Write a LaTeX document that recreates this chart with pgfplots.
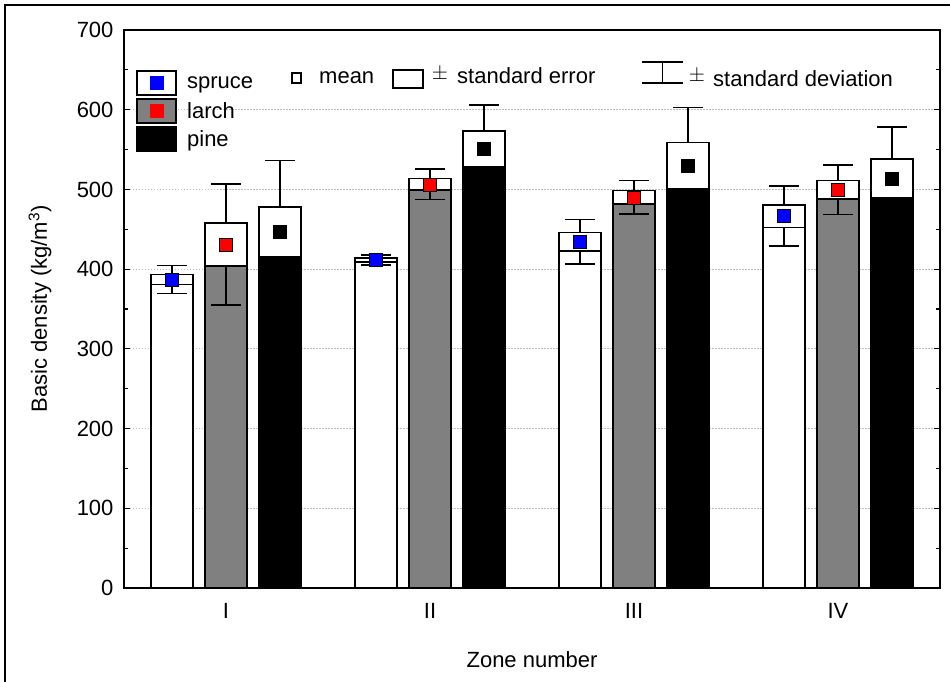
\documentclass[border=0pt]{standalone}
\usepackage{fontspec}
\setmainfont{Liberation Sans}
\usepackage{pgfplots}
\usepackage{pgfplotstable}
\pgfplotsset{compat=1.18}

% x = bar position, mean, standard error, standard deviation
\pgfplotstableread{
x     mean  se   sd
0.735 386.8 6.3  17.5
1.735 411.5 2.5  6.5
2.735 434.5 11.5 28
3.735 466.5 14   37.5
}\spruce
\pgfplotstableread{
x     mean  se   sd
1.000 431   27   76
2.000 506.5 7.5  19
3.000 490   8.5  21
4.000 499.5 11.5 31
}\larch
\pgfplotstableread{
x     mean  se   sd
1.265 447   31   89
2.265 551   22   55
3.265 530   29   73
4.265 513.5 24.5 65
}\pine

\definecolor{larchgray}{RGB}{128,128,128}
\definecolor{gridgray}{RGB}{190,190,190}

\pgfplotsset{
  sebox/.style={ybar, bar width=42pt, line width=1.5pt, draw=black, forget plot},
  whisk/.style={draw=none, mark=none, forget plot,
    error bars/.cd, y dir=#1, y explicit, error mark=|,
    error bar style={draw=black, solid, line width=1.5pt},
    error mark options={draw=black, solid, line width=1.5pt, mark size=15pt}},
  meanmark/.style={only marks, mark=square*, mark size=6.5pt, forget plot},
}

\begin{document}
\begin{tikzpicture}[font=\fontsize{22}{26}\selectfont]
\path[use as bounding box] (-124pt,-94pt) rectangle (826pt,588pt);
\begin{axis}[
  at={(0pt,0pt)}, anchor=south west,
  scale only axis, width=816pt, height=558pt,
  xmin=0.5, xmax=4.5, ymin=0, ymax=700,
  xtick={1,2,3,4}, xticklabels={I,II,III,IV},
  xtick pos=left,
  ytick={0,100,...,700}, minor y tick num=1,
  tick align=inside, major tick length=6pt, minor tick length=4pt,
  axis line style={line width=1.5pt},
  every tick/.style={black, line width=1.2pt},
  ymajorgrids,
  grid style={gridgray, line width=0.9pt, dash pattern=on 1.5pt off 1.5pt},
  /pgf/number format/assume math mode=true,
  yticklabel style={xshift=-7pt},
  xticklabel style={yshift=-12pt},
  xlabel={Zone number},
  ylabel={Basic density (kg/m\textsuperscript{3})},
  every axis x label/.style={at={(axis description cs:0.5,-0.129)}, anchor=center},
  every axis y label/.style={at={(axis description cs:-0.103,0.5)}, rotate=90, anchor=center},
  legend style={at={(0.0147,0.928)}, anchor=north west, draw=none, fill=none,
    inner sep=0pt, row sep=2.5pt, column sep=0pt, nodes={inner sep=0pt}},
  legend cell align=left,
]
% white +/- SE boxes (drawn to mean + SE)
\addplot[sebox, fill=white] table[x=x, y expr=\thisrow{mean}+\thisrow{se}] {\spruce};
\addplot[sebox, fill=white] table[x=x, y expr=\thisrow{mean}+\thisrow{se}] {\larch};
\addplot[sebox, fill=white] table[x=x, y expr=\thisrow{mean}+\thisrow{se}] {\pine};
% filled bars up to mean - SE
\addplot[sebox, fill=white] table[x=x, y expr=\thisrow{mean}-\thisrow{se}] {\spruce};
\addplot[sebox, fill=larchgray] table[x=x, y expr=\thisrow{mean}-\thisrow{se}] {\larch};
\addplot[sebox, fill=black] table[x=x, y expr=\thisrow{mean}-\thisrow{se}] {\pine};
% SD whiskers
\addplot[whisk=minus] table[x=x, y expr=\thisrow{mean}-\thisrow{se}, y error expr=\thisrow{sd}-\thisrow{se}] {\spruce};
\addplot[whisk=minus] table[x=x, y expr=\thisrow{mean}-\thisrow{se}, y error expr=\thisrow{sd}-\thisrow{se}] {\larch};
\addplot[whisk=minus] table[x=x, y expr=\thisrow{mean}-\thisrow{se}, y error expr=\thisrow{sd}-\thisrow{se}] {\pine};
\addplot[whisk=plus] table[x=x, y expr=\thisrow{mean}+\thisrow{se}, y error expr=\thisrow{sd}-\thisrow{se}] {\spruce};
\addplot[whisk=plus] table[x=x, y expr=\thisrow{mean}+\thisrow{se}, y error expr=\thisrow{sd}-\thisrow{se}] {\larch};
\addplot[whisk=plus] table[x=x, y expr=\thisrow{mean}+\thisrow{se}, y error expr=\thisrow{sd}-\thisrow{se}] {\pine};
% means
\addplot[meanmark, mark options={fill=blue, draw=none}] table[x=x, y=mean] {\spruce};
\addplot[meanmark, mark options={fill=red, draw=none}] table[x=x, y=mean] {\larch};
\addplot[meanmark, mark options={fill=black, draw=none}] table[x=x, y=mean] {\pine};

\addlegendimage{legend image code/.code={
  \draw[line width=1.5pt, fill=white] (0pt,-12pt) rectangle (39pt,12pt);
  \fill[blue] (13pt,-6.5pt) rectangle (26pt,6.5pt);
  \path (50pt,0pt);}}
\addlegendentry{spruce}
\addlegendimage{legend image code/.code={
  \draw[line width=1.5pt, fill=larchgray] (0pt,-12pt) rectangle (39pt,12pt);
  \fill[red] (13pt,-6.5pt) rectangle (26pt,6.5pt);
  \path (50pt,0pt);}}
\addlegendentry{larch}
\addlegendimage{legend image code/.code={
  \draw[line width=1.5pt, fill=black] (0pt,-12pt) rectangle (39pt,12pt);
  \path (50pt,0pt);}}
\addlegendentry{pine}
\end{axis}
% key for mean / SE / SD
\draw[line width=1.2pt] (168pt,505pt) rectangle (177pt,515pt);
\node[anchor=base west, inner sep=0pt] at (195pt,504pt) {mean};
\draw[line width=1.5pt] (269pt,500pt) rectangle (299pt,518pt);
\node[inner sep=0pt] at (316pt,514pt) {$\pm$};
\node[anchor=base west, inner sep=0pt] at (333pt,504pt) {standard error};
\draw[line width=1.5pt] (518pt,526pt) -- (559pt,526pt) (518pt,505pt) -- (559pt,505pt) (538.5pt,526pt) -- (538.5pt,505pt);
\node[inner sep=0pt] at (573pt,512pt) {$\pm$};
\node[anchor=base west, inner sep=0pt] at (589pt,501pt) {standard deviation};
% outer frame
\draw[line width=1.5pt] (-119pt,-94pt) -- (-119pt,583pt) -- (826pt,583pt);
\end{tikzpicture}
\end{document}
